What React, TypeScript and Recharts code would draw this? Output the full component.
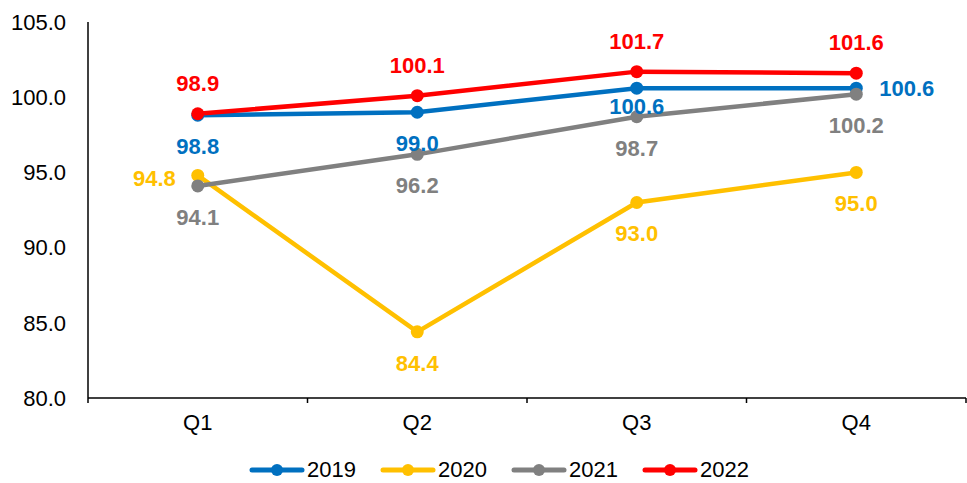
import React from "react";
import { LineChart, Line, XAxis, YAxis, Legend, LabelList } from "recharts";

const categories = ["Q1", "Q2", "Q3", "Q4"];
const v2019 = [98.8, 99.0, 100.6, 100.6];
const v2020 = [94.8, 84.4, 93.0, 95.0];
const v2021 = [94.1, 96.2, 98.7, 100.2];
const v2022 = [98.9, 100.1, 101.7, 101.6];
const yTicks = [80, 85, 90, 95, 100, 105];

const data = categories.map((c, i) => ({
  q: c,
  y2019: v2019[i],
  y2020: v2020[i],
  y2021: v2021[i],
  y2022: v2022[i],
}));

const series = [
  { key: "y2019", name: "2019", color: "#0070C0", pos: ["bottom", "bottom", "bottomNear", "right"] },
  { key: "y2020", name: "2020", color: "#FFC000", pos: ["left", "bottom", "bottom", "bottom"] },
  { key: "y2021", name: "2021", color: "#808080", pos: ["bottom", "bottom", "bottom", "bottom"] },
  { key: "y2022", name: "2022", color: "#FF0000", pos: ["top", "top", "top", "top"] },
];

const FONT = "'Liberation Sans', Arial, sans-serif";
const X_TICK_MARGIN = 16;

function makeLabel(color: string, pos: string[]) {
  return (props: any) => {
    const { x, y, value, index } = props;
    const p = pos[index];
    let tx = x;
    let ty = y;
    let anchor: any = "middle";
    if (p === "top") ty = y - 31;
    else if (p === "bottom") ty = y + 31;
    else if (p === "bottomNear") ty = y + 18;
    else if (p === "right") { tx = x + 23; anchor = "start"; }
    else if (p === "left") { tx = x - 22; anchor = "end"; ty = y + 3; }
    return (
      <text x={tx} y={ty} dy="0.36em" textAnchor={anchor} fill={color}
        fontFamily={FONT} fontSize={22} fontWeight="bold">
        {Number(value).toFixed(1)}
      </text>
    );
  };
}

const CategoryTick = (props: any) => {
  const { x, y, width, visibleTicksCount, index, payload } = props;
  const band = width / visibleTicksCount;
  const axisY = y - X_TICK_MARGIN;
  const right = x + band / 2;
  const left = x - band / 2;
  return (
    <g>
      {index === 0 && <line x1={left} x2={left} y1={axisY} y2={axisY + 5} stroke="#000" strokeWidth={1.5} />}
      <line x1={right} x2={right} y1={axisY} y2={axisY + 5} stroke="#000" strokeWidth={1.5} />
      <text x={x} y={y} dy="0.71em" textAnchor="middle" fill="#000" fontSize={22} fontFamily={FONT}>
        {payload.value}
      </text>
    </g>
  );
};

const LegendContent = () => (
  <div style={{ display: "flex", justifyContent: "center", alignItems: "center", gap: 24, paddingTop: 21, paddingLeft: 32, fontFamily: FONT, fontSize: 22, lineHeight: "22px", color: "#000" }}>
    {series.map((s) => (
      <div key={s.key} style={{ display: "flex", alignItems: "center", height: 22 }}>
        <svg width={56} height={14} style={{ marginRight: 2 }}>
          <line x1={3} y1={7} x2={53} y2={7} stroke={s.color} strokeWidth={5} strokeLinecap="round" />
          <circle cx={28} cy={7} r={6} fill={s.color} />
        </svg>
        <span>{s.name}</span>
      </div>
    ))}
  </div>
);

export default function App() {
  return (
    <div style={{ position: "absolute", left: 0, top: 0, background: "#fff" }}>
      <LineChart width={967} height={483} data={data} margin={{ top: 22, right: 1, left: 0, bottom: 0 }}>
        <XAxis dataKey="q" scale="band" height={40} tickLine={false} tickSize={0} tickMargin={X_TICK_MARGIN}
          axisLine={{ stroke: "#000", strokeWidth: 1.5 }} interval={0}
          tick={<CategoryTick />} />
        <YAxis width={88} domain={[80, 105]} ticks={yTicks} tickFormatter={(v: number) => v.toFixed(1)}
          tickLine={false} tickSize={0} tickMargin={22} axisLine={{ stroke: "#000", strokeWidth: 1.5 }}
          tick={{ fill: "#000", fontSize: 22, fontFamily: FONT }} />
        <Legend verticalAlign="bottom" height={45} content={<LegendContent />} />
        {series.map((s) => (
          <Line key={s.key} dataKey={s.key} name={s.name} stroke={s.color} strokeWidth={4.5}
            dot={{ r: 6.5, fill: s.color, stroke: s.color, strokeWidth: 0 }} activeDot={false}
            isAnimationActive={false}>
            <LabelList dataKey={s.key} content={makeLabel(s.color, s.pos)} />
          </Line>
        ))}
      </LineChart>
    </div>
  );
}
